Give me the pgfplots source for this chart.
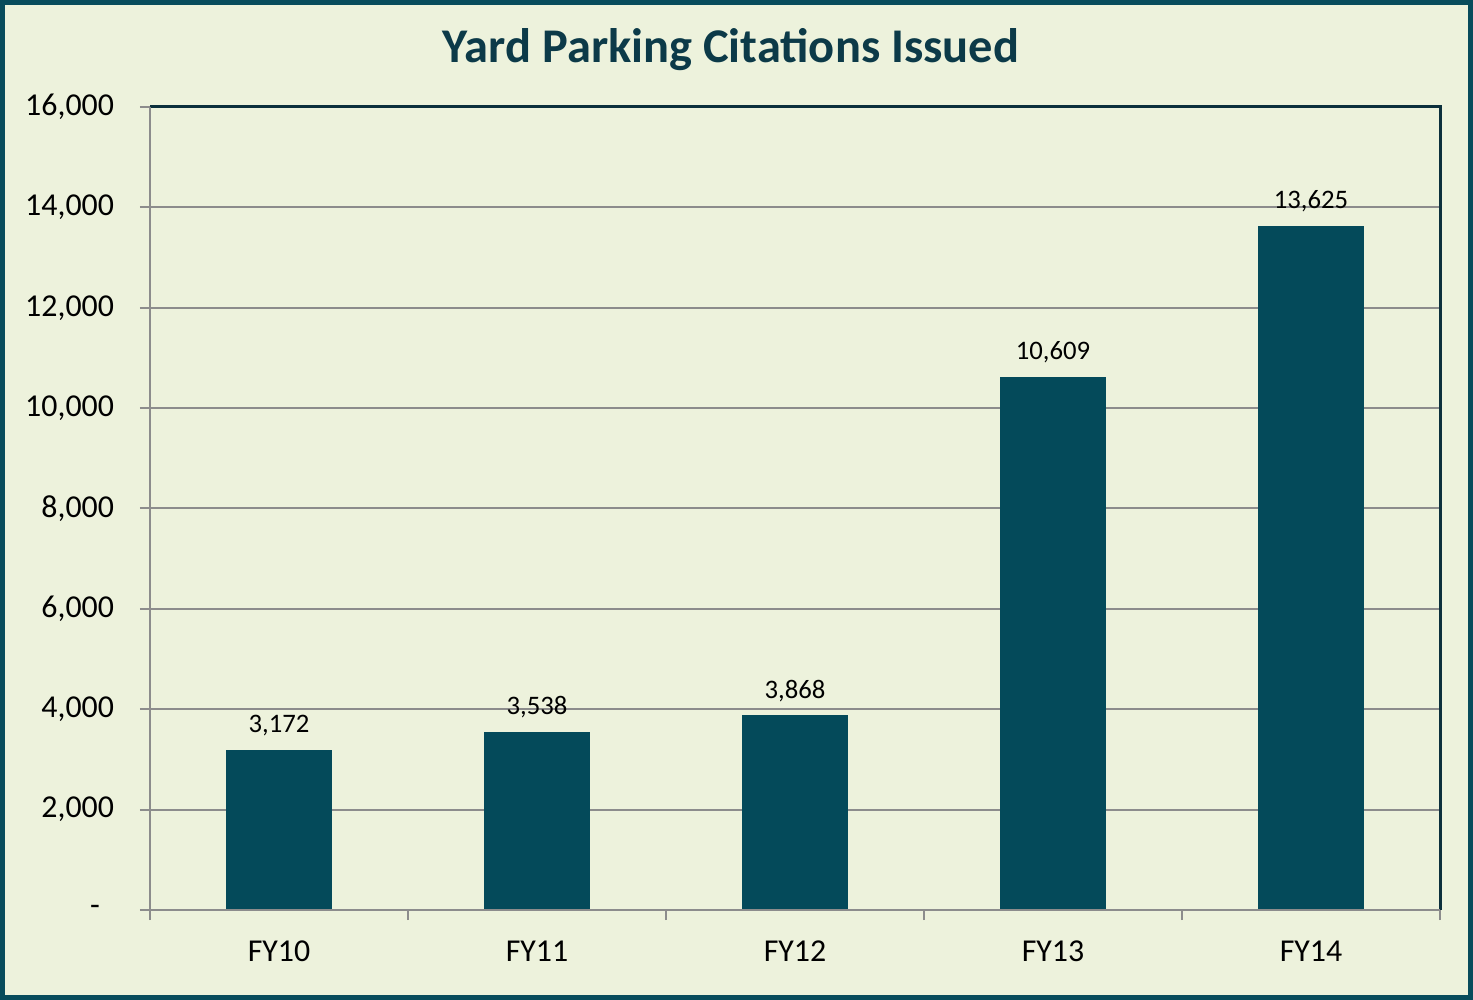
\documentclass[border=0pt]{standalone}
\usepackage{pgfplots}
\pgfplotsset{compat=1.18}
\usepackage{fontspec}
\setmainfont{Carlito}
\definecolor{bg}{RGB}{237,242,220}
\definecolor{frame}{RGB}{8,76,92}
\definecolor{barc}{RGB}{4,74,90}
\definecolor{titlec}{RGB}{12,58,72}
\definecolor{border}{RGB}{12,48,60}
\definecolor{gridc}{RGB}{140,140,140}
\begin{document}
\begin{tikzpicture}
\useasboundingbox (0,0) rectangle (736.5bp,500bp);
\fill[bg] (0,0) rectangle (736.5bp,500bp);
\draw[frame, line width=2.5bp] (1.25bp,1.25bp) rectangle (735.25bp,498.75bp);
\node[titlec, font=\fontsize{24.3}{29}\selectfont\bfseries] at (365.5bp,475bp) {Yard Parking Citations Issued};
\begin{axis}[
  at={(75bp,45bp)}, anchor=south west,
  scale only axis, width=645bp, height=401.5bp,
  xmin=-0.5, xmax=4.5, ymin=0, ymax=16000,
  axis line style={draw=none},
  scaled y ticks=false,
  xtick pos=lower, ytick pos=lower,
  xtick={0,1,2,3,4},
  xticklabels={FY10,FY11,FY12,FY13,FY14},
  minor xtick={-0.5,0.5,1.5,2.5,3.5,4.5},
  ytick={0,2000,4000,6000,8000,10000,12000,14000,16000},
  yticklabels={{-\rule{7bp}{0pt}},{2,000},{4,000},{6,000},{8,000},{10,000},{12,000},{14,000},{16,000}},
  tick align=outside,
  major x tick style={draw=none},
  minor x tick style={gridc, line width=1bp},
  minor tick length=5bp,
  major tick length=5bp,
  y tick style={gridc, line width=1bp},
  ymajorgrids, major grid style={gridc, line width=1bp},
  xticklabel style={font=\fontsize{16}{19}\selectfont, black, yshift=-7bp},
  yticklabel style={font=\fontsize{16}{19}\selectfont, black, xshift=-9.5bp},
  /pgf/number format/.cd, 1000 sep={,}, assume math mode=true, fixed, precision=0,
  /pgfplots/.cd,
  ybar, bar width=52.5bp,
  nodes near coords,
  nodes near coords style={font=\fontsize{13.4}{16}\selectfont, black, inner sep=0pt, anchor=south, yshift=7bp},
  clip=false,
]
\addplot[fill=barc, draw=barc] coordinates {(0,3172) (1,3538) (2,3868) (3,10609) (4,13625)};
\draw[border, line width=1.5bp] (rel axis cs:0,1) -- (rel axis cs:1,1) -- (rel axis cs:1,0);
\draw[gridc, line width=1bp] (rel axis cs:0,1) -- (rel axis cs:0,0) -- (rel axis cs:1,0);
\end{axis}
\end{tikzpicture}
\end{document}
